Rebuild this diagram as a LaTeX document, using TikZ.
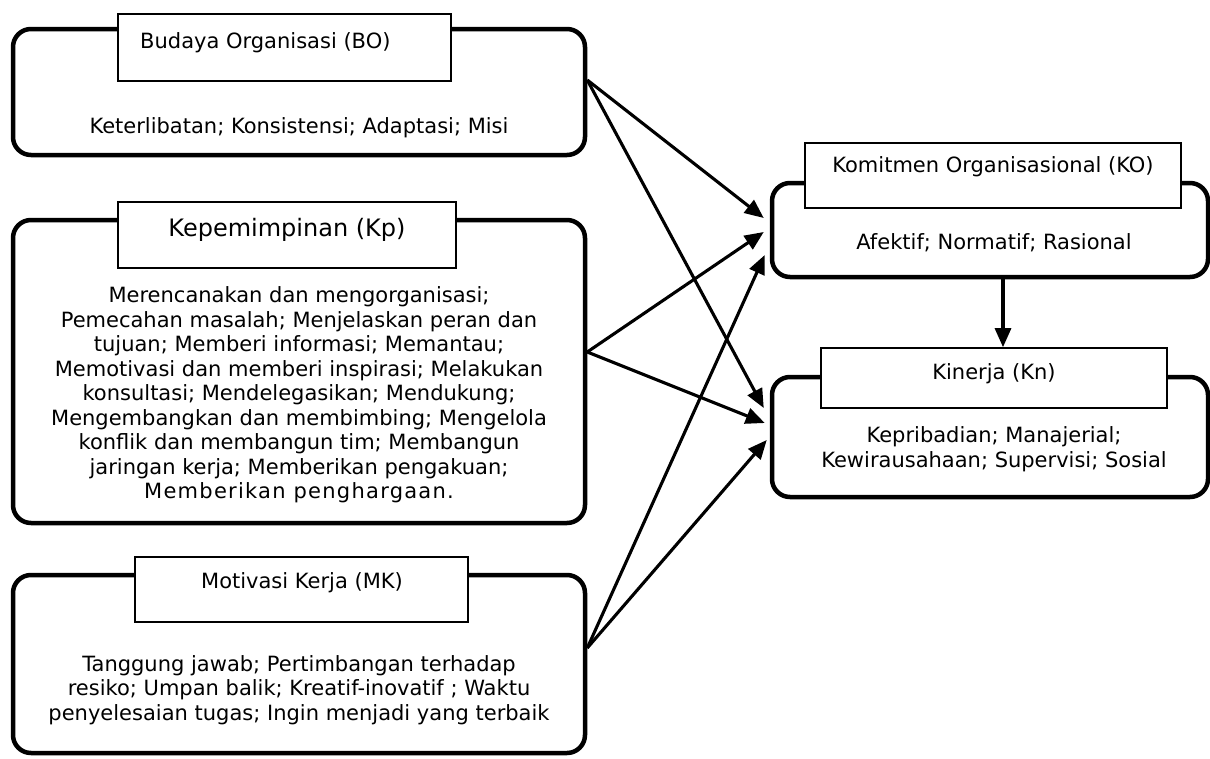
\documentclass[tikz,border=0pt]{standalone}
\usepackage{fontspec}
\setmainfont{DejaVu Sans}
\usetikzlibrary{arrows.meta,calc}
\begin{document}
\begin{tikzpicture}[x=1pt,y=-1pt,
  outerbox/.style={draw, line width=4.5pt, rounded corners=18pt, inner sep=0pt},
  titlebox/.style={draw, fill=white, line width=1.6pt, inner sep=0pt},
  txt/.style={inner sep=0pt, font=\fontsize{21}{24.5}\selectfont, align=center},
  arr/.style={-{Triangle[length=19pt,width=16pt]}, line width=3.1pt}]
\path[use as bounding box] (0,0) rectangle (1210,758);

% Budaya Organisasi
\node[outerbox, minimum width=572pt, minimum height=126pt] (bo) at (299,92) {};
\node[titlebox, minimum width=333pt, minimum height=67pt] (botitle) at (284.5,47.5) {};
\node[txt, anchor=west] (botext) at (140,43) {Budaya Organisasi (BO)};
\node[txt] (bobody) at (299,128) {Keterlibatan; Konsistensi; Adaptasi; Misi};

% Kepemimpinan
\node[outerbox, minimum width=572pt, minimum height=303pt] (kp) at (299,371.5) {};
\node[titlebox, minimum width=338pt, minimum height=66pt] (kptitle) at (287,235) {};
\node[txt, font=\fontsize{24}{28}\selectfont] (kptext) at (287,230) {Kepemimpinan (Kp)};
\node[txt] (kpbody) at (299,395) {Merencanakan dan mengorganisasi;\\
Pemecahan masalah; Menjelaskan peran dan\\
tujuan; Memberi informasi; Memantau;\\
Memotivasi dan memberi inspirasi; Melakukan\\
konsultasi; Mendelegasikan; Mendukung;\\
Mengembangkan dan membimbing; Mengelola\\
konflik dan membangun tim; Membangun\\
jaringan kerja; Memberikan pengakuan;\\
{\addfontfeature{LetterSpace=6}Memberikan penghargaan.}};

% Motivasi Kerja
\node[outerbox, minimum width=572pt, minimum height=178pt] (mk) at (299,664) {};
\node[titlebox, minimum width=333pt, minimum height=65pt] (mktitle) at (301.5,589.5) {};
\node[txt] (mktext) at (302,583) {Motivasi Kerja (MK)};
\node[txt] (mkbody) at (299,690) {Tanggung jawab; Pertimbangan terhadap\\
resiko; Umpan balik; Kreatif-inovatif ; Waktu\\
penyelesaian tugas; Ingin menjadi yang terbaik};

% Komitmen Organisasional
\node[outerbox, minimum width=436pt, minimum height=94pt] (ko) at (990,230) {};
\node[titlebox, minimum width=376pt, minimum height=65pt] (kotitle) at (993,175.5) {};
\node[txt] (kotext) at (993,167) {Komitmen Organisasional (KO)};
\node[txt] (kobody) at (994,243) {Afektif; Normatif; Rasional};

% Kinerja
\node[outerbox, minimum width=436pt, minimum height=120pt] (kn) at (990,437) {};
\node[titlebox, minimum width=346pt, minimum height=60pt] (kntitle) at (994,378) {};
\node[txt] (kntext) at (994,374) {Kinerja (Kn)};
\node[txt] (knbody) at (994,449) {Kepribadian; Manajerial;\\ Kewirausahaan; Supervisi; Sosial};

% Arrows
\draw[arr] ([yshift=12pt]bo.east) -- ([xshift=-6pt,yshift=12pt]ko.west);
\draw[arr] ([yshift=12pt]bo.east) -- ([xshift=-6pt,yshift=29pt]kn.west);
\draw[arr] ([yshift=19.5pt]kp.east) -- ([xshift=-6pt,yshift=-2pt]ko.west);
\draw[arr] ([yshift=19.5pt]kp.east) -- ([xshift=-5pt,yshift=14pt]kn.west);
\draw[arr] ([yshift=16pt]mk.east) -- ([xshift=-5pt,yshift=-25pt]ko.west);
\draw[arr] ([yshift=16pt]mk.east) -- ([xshift=-3pt,yshift=-3pt]kn.west);
\draw[arr] ([xshift=13pt]ko.south) -- ([xshift=13pt]ko.south |- kntitle.north);
\end{tikzpicture}
\end{document}
